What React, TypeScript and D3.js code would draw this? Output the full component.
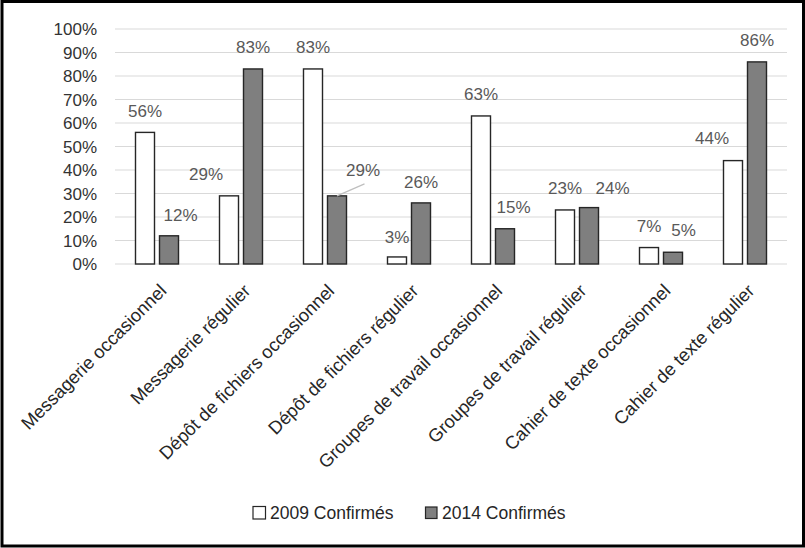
import React from "react";
import * as d3 from "d3";

const categories = [
  "Messagerie occasionnel",
  "Messagerie régulier",
  "Dépôt de fichiers occasionnel",
  "Dépôt de fichiers régulier",
  "Groupes de travail occasionnel",
  "Groupes de travail régulier",
  "Cahier de texte occasionnel",
  "Cahier de texte régulier",
];
const seriesNames = ["2009 Confirmés", "2014 Confirmés"];
const values2009 = [56, 29, 83, 3, 63, 23, 7, 44];
const values2014 = [12, 83, 29, 26, 15, 24, 5, 86];
const yTicks = [0, 10, 20, 30, 40, 50, 60, 70, 80, 90, 100];

// layout-only adjustments of data labels (as placed in the original)
const labelDx2009 = [0, -23, 0, 0, 0, 0, 0, -21];
const labelDx2014 = [11.5, 0, 26, 0, 8.5, 23.5, 10.5, 0];
const labelRise2009 = [15.6, 15.7, 15.7, 14.3, 16, 16, 16, 16.6];
const labelRise2014 = [15, 15.7, 20, 14.6, 15.4, 13.6, 16, 15.5];
const leaderLine2014 = [false, false, true, false, false, false, false, false];

const W = 805;
const H = 548;
const FONT = "'Liberation Sans', Arial, sans-serif";

export default function App() {
  const left = 115;
  const right = 787;
  const top = 29;
  const bottom = 264;

  const x = d3
    .scaleBand<string>()
    .domain(categories)
    .range([left, right])
    .paddingInner(0.488)
    .paddingOuter(0.244);
  const x1 = d3
    .scaleBand<string>()
    .domain(seriesNames)
    .range([0, x.bandwidth()])
    .paddingInner(5 / 24)
    .paddingOuter(0);
  const y = d3.scaleLinear().domain([0, 100]).range([bottom, top]);

  const series = [
    { name: seriesNames[0], values: values2009, fill: "#ffffff", dx: labelDx2009, rise: labelRise2009, leader: categories.map(() => false) },
    { name: seriesNames[1], values: values2014, fill: "#7f7f7f", dx: labelDx2014, rise: labelRise2014, leader: leaderLine2014 },
  ];

  const step = x.step();

  return (
    <svg
      width={W}
      height={H}
      style={{ position: "absolute", left: 0, top: 0, background: "#fff" }}
      fontFamily={FONT}
    >
      <rect x={0} y={0} width={W} height={H} fill="#fff" />
      {/* gridlines */}
      {yTicks.map((t) => (
        <line key={t} x1={left} x2={right} y1={y(t)} y2={y(t)} stroke="#d9d9d9" strokeWidth={1.2} />
      ))}
      {/* y tick labels */}
      {yTicks.map((t) => (
        <text key={"yl" + t} x={97} y={y(t) + 6.2} textAnchor="end" fontSize={17} fill="#333">
          {t + "%"}
        </text>
      ))}
      {/* bars */}
      {series.map((s) =>
        categories.map((c, i) => {
          const bx = (x(c) as number) + (x1(s.name) as number);
          const by = y(s.values[i]);
          return (
            <rect
              key={s.name + c}
              x={bx}
              y={by}
              width={x1.bandwidth()}
              height={bottom - by}
              fill={s.fill}
              stroke="#262626"
              strokeWidth={1.4}
            />
          );
        })
      )}
      {/* data labels */}
      {series.map((s) =>
        categories.map((c, i) => {
          const cx = (x(c) as number) + (x1(s.name) as number) + x1.bandwidth() / 2;
          const by = y(s.values[i]);
          const lx = cx + s.dx[i];
          const ly = by - s.rise[i];
          return (
            <g key={"lab" + s.name + c}>
              {s.leader[i] && (
                <line x1={cx} y1={by} x2={lx + 1.5} y2={ly + 8} stroke="#bfbfbf" strokeWidth={1.2} />
              )}
              <text x={lx} y={ly} textAnchor="middle" fontSize={17} fill="#595959">
                {s.values[i] + "%"}
              </text>
            </g>
          );
        })
      )}
      {/* x labels */}
      {categories.map((c) => {
        const cx = (x(c) as number) + x.bandwidth() / 2;
        return (
          <text
            key={"xl" + c}
            transform={`translate(${cx + 10.5},${bottom + 28}) rotate(-45)`}
            textAnchor="end"
            fontSize={18.3}
            fill="#262626"
          >
            {c}
          </text>
        );
      })}
      {/* legend */}
      <g>
        <rect x={253} y={506.5} width={12.5} height={12.5} fill="#fff" stroke="#262626" strokeWidth={1.2} />
        <text x={270} y={519} fontSize={17.5} fill="#262626">
          {seriesNames[0]}
        </text>
        <rect x={425.5} y={507} width={11.5} height={11.5} fill="#7f7f7f" stroke="#262626" strokeWidth={1.2} />
        <text x={442} y={519} fontSize={17.5} fill="#262626">
          {seriesNames[1]}
        </text>
      </g>
      {/* outer border */}
      <rect x={2} y={1.5} width={801.5} height={544.5} fill="none" stroke="#000" strokeWidth={3} />
      {void step}
    </svg>
  );
}
